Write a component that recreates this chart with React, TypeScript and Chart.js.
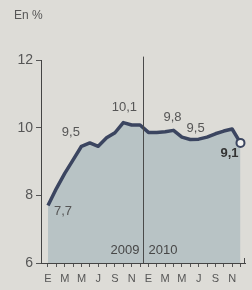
import React, { useEffect, useRef } from "react";
import { Chart, registerables } from "chart.js";

Chart.register(...registerables);

// Monthly categories Jan 2009 – Dec 2010 (Spanish initials)
const monthLetters = ["E", "F", "M", "A", "M", "J", "J", "A", "S", "O", "N", "D",
  "E", "F", "M", "A", "M", "J", "J", "A", "S", "O", "N", "D"];
// Series values (%)
const values = [7.7, 8.2, 8.65, 9.05, 9.45, 9.55, 9.45, 9.7, 9.85, 10.15, 10.08, 10.08,
  9.86, 9.86, 9.88, 9.92, 9.72, 9.65, 9.66, 9.72, 9.82, 9.9, 9.96, 9.55];
// Y tick values
const yTicks = [6, 8, 10, 12];
// Annotated values
const labelIndex = [0, 5, 9, 15, 18, 23];
const labelText = ["7,7", "9,5", "10,1", "9,8", "9,5", "9,1"];
const years = ["2009", "2010"];
const yearBoundary = 11.4;

const FONT = "'Liberation Sans', Arial, sans-serif";
const TEXT = "#565656";
const LINE = "#3b4560";
const FILL = "#b8c3c5";
const PAPER = "#dddcd7";

export default function App() {
  const ref = useRef<HTMLCanvasElement | null>(null);

  useEffect(() => {
    if (!ref.current) return;
    const labelOffsets = [[15, 6], [-19, -10], [1, -15], [-1, -13], [-3, -11], [-11, 11]];
    const annotate = {
      id: "annotate",
      afterDatasetsDraw(chart: any) {
        const ctx = chart.ctx;
        const xs = chart.scales.x;
        const ys = chart.scales.y;
        const area = chart.chartArea;
        ctx.save();
        // year separator
        const sx = Math.round(xs.getPixelForValue(yearBoundary)) + 0.5;
        ctx.strokeStyle = "#4a4a4a";
        ctx.lineWidth = 1;
        ctx.beginPath();
        ctx.moveTo(sx, ys.getPixelForValue(12.1));
        ctx.lineTo(sx, ys.getPixelForValue(6));
        ctx.stroke();
        // end bracket on the time axis
        const ex = Math.round(area.right) - 0.5;
        ctx.beginPath();
        ctx.moveTo(ex, area.bottom);
        ctx.lineTo(ex, area.bottom - 5);
        ctx.stroke();
        // year labels
        ctx.fillStyle = "#474747";
        ctx.font = `13px ${FONT}`;
        ctx.textBaseline = "middle";
        ctx.textAlign = "right";
        ctx.fillText(years[0], sx - 4, ys.getPixelForValue(6) - 13);
        ctx.textAlign = "left";
        ctx.fillText(years[1], sx + 5, ys.getPixelForValue(6) - 13);
        // value labels
        ctx.textAlign = "center";
        labelIndex.forEach((idx, k) => {
          const px = xs.getPixelForValue(idx);
          const py = ys.getPixelForValue(values[idx]);
          const [dx, dy] = labelOffsets[k];
          ctx.fillStyle = k === labelIndex.length - 1 ? "#333" : TEXT;
          ctx.font = (k === labelIndex.length - 1 ? "bold " : "") + `13px ${FONT}`;
          ctx.fillText(labelText[k], px + dx, py + dy);
        });
        // unit
        ctx.fillStyle = TEXT;
        ctx.font = `12px ${FONT}`;
        ctx.textAlign = "left";
        ctx.fillText("En %", 14, 16);
        ctx.restore();
      },
    };

    const chart = new Chart(ref.current, {
      type: "line",
      data: {
        datasets: [
          {
            data: values.map((v, i) => ({ x: i, y: v })),
            borderColor: LINE,
            borderWidth: 3.5,
            backgroundColor: FILL,
            fill: "start",
            tension: 0,
            borderJoinStyle: "round",
            pointRadius: values.map((_, i) => (i === values.length - 1 ? 4 : 0)),
            pointBackgroundColor: "#f2f2f0",
            pointBorderColor: LINE,
            pointBorderWidth: 2,
            clip: false,
          } as any,
        ],
      },
      options: {
        animation: false,
        responsive: false,
        maintainAspectRatio: false,
        layout: { padding: { top: 60, right: 7, left: 0, bottom: 0 } },
        plugins: { legend: { display: false }, tooltip: { enabled: false }, title: { display: false } },
        scales: {
          x: {
            type: "linear",
            min: -0.836,
            max: 23.54,
            afterFit: (s: any) => { s.height = 27; },
            ticks: {
              stepSize: 1,
              includeBounds: false,
              autoSkip: false,
              maxRotation: 0,
              padding: 5,
              color: TEXT,
              font: { size: 11, family: FONT },
              callback: (v: any) => {
                const i = Number(v);
                return Number.isInteger(i) && i % 2 === 0 ? monthLetters[i] : "";
              },
            },
            grid: { drawOnChartArea: false, drawTicks: true, tickLength: 4, color: "#555" },
            border: { display: true, color: "#444", width: 1 },
          },
          y: {
            type: "linear",
            min: yTicks[0],
            max: yTicks[yTicks.length - 1],
            afterFit: (s: any) => { s.width = 41; },
            afterBuildTicks: (s: any) => { s.ticks = yTicks.map((v) => ({ value: v })); },
            ticks: {
              padding: 3,
              color: TEXT,
              font: { size: 14, family: FONT },
            },
            grid: { drawOnChartArea: false, drawTicks: true, tickLength: 5, color: "#555" },
            border: { display: true, color: "#444", width: 1 },
          },
        },
      },
      plugins: [annotate],
    });
    return () => chart.destroy();
  }, []);

  return (
    <div style={{ position: "fixed", left: 0, top: 0, width: 252, height: 290, background: PAPER }}>
      <canvas ref={ref} width={252} height={290} style={{ width: 252, height: 290, display: "block" }} />
    </div>
  );
}
